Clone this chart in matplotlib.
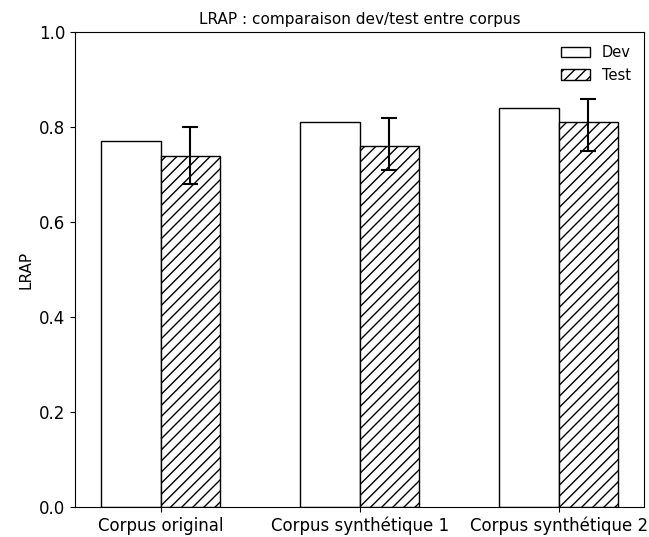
import numpy as np
import matplotlib
matplotlib.use("Agg")
import matplotlib.pyplot as plt

corpora = ["Corpus original", "Corpus synthétique 1", "Corpus synthétique 2"]
dev_scores = [0.77, 0.81, 0.84]
test_scores = [0.74, 0.76, 0.81]
test_err_low = [0.06, 0.05, 0.06]
test_err_high = [0.06, 0.06, 0.05]

x = np.arange(len(corpora))
width = 0.3

fig = plt.figure(figsize=(6.49, 5.37), dpi=100)
ax = fig.add_axes([0.1156, 0.056, 0.877, 0.884])

ax.bar(x - width / 2, dev_scores, width, color="white", edgecolor="black", label="Dev")
ax.bar(x + width / 2, test_scores, width, color="white", edgecolor="black", hatch="///",
       yerr=[test_err_low, test_err_high], capsize=6,
       error_kw=dict(elinewidth=1.5, capthick=1.5), label="Test")

ax.set_xticks(x)
ax.set_xticklabels(corpora, fontsize=12)
ax.tick_params(axis="y", labelsize=12)
ax.set_ylim(0, 1.0)
ax.set_ylabel("LRAP", fontsize=11)
ax.set_title("LRAP : comparaison dev/test entre corpus", fontsize=11)
ax.legend(frameon=False, loc="upper right", fontsize=10.5)

fig.savefig("out.png", dpi=100)
